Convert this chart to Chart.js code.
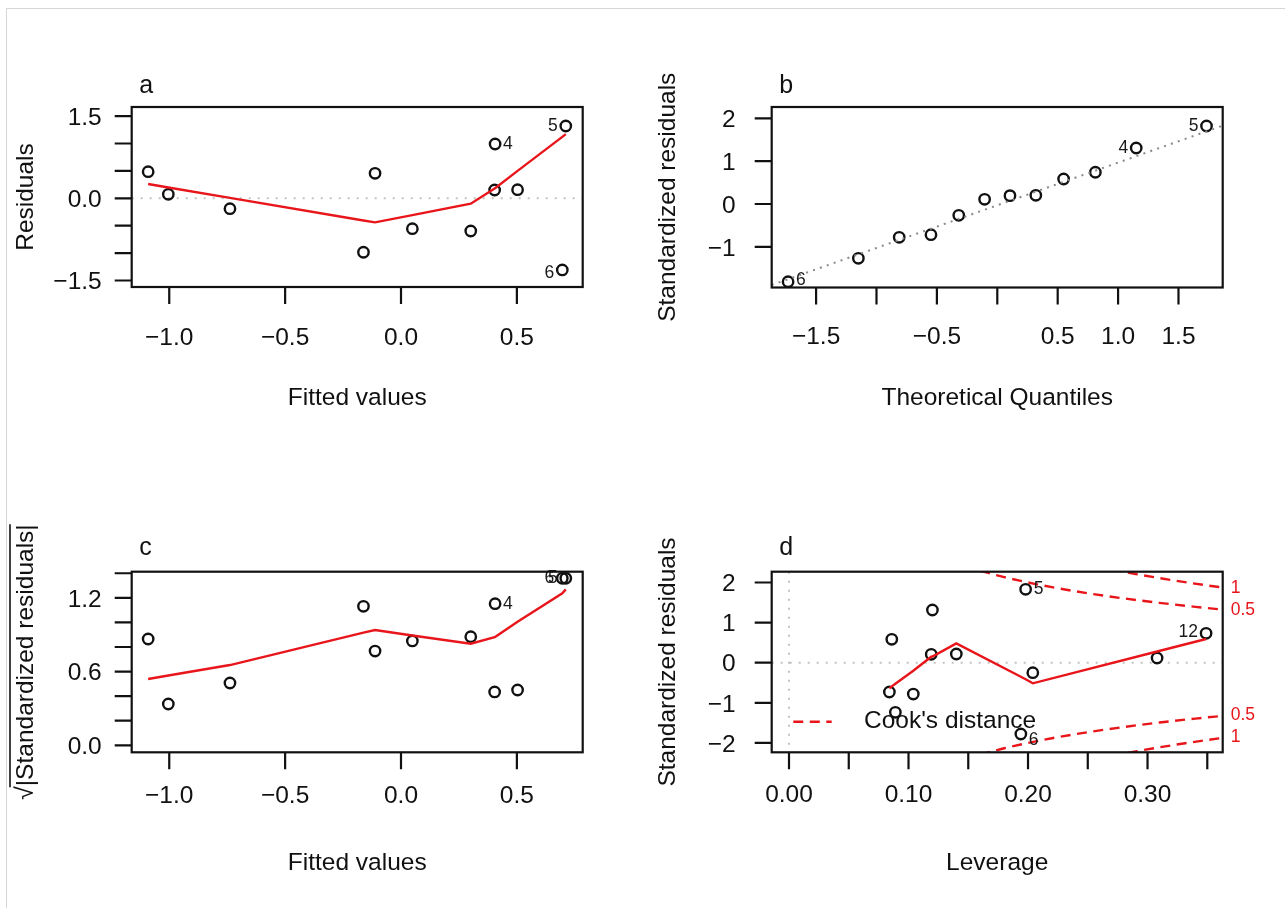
<!DOCTYPE html>
<html>
<head>
<meta charset="utf-8">
<title>Regression diagnostics</title>
<script src="https://cdn.jsdelivr.net/npm/chart.js"></script>
<style>
  html, body { margin: 0; padding: 0; background: #fff; }
  #page { position: relative; width: 1285px; height: 908px; overflow: hidden; background: #fff; }
  #frame { position: absolute; left: 6px; top: 8px; right: -2px; bottom: -2px;
           border-left: 1px solid #d6d6d6; border-top: 1px solid #d6d6d6; }
  canvas { position: absolute; left: 0; top: 0; }
</style>
</head>
<body>
<div id="page">
  <div id="frame"></div>
  <canvas id="panelA" width="1285" height="908"></canvas>
  <canvas id="panelB" width="1285" height="908"></canvas>
  <canvas id="panelC" width="1285" height="908"></canvas>
  <canvas id="panelD" width="1285" height="908"></canvas>
</div>
<script>
// ---- observations (ordered by fitted value) ----
const obsId = ["12", "", "", "", "", "", "", "4", "", "", "5", "6"];
const fitted = [-1.091, -1.004, -0.738, -0.162, -0.112, 0.049, 0.301, 0.406, 0.404, 0.503, 0.711, 0.696];
const residuals = [0.485, 0.073, -0.190, -0.985, 0.456, -0.555, -0.597, 0.991, 0.151, 0.157, 1.319, -1.308];
const sqrtStdResid = [0.865, 0.336, 0.507, 1.131, 0.767, 0.849, 0.884, 1.152, 0.434, 0.450, 1.359, 1.359];
const leverage = [0.349, 0.308, 0.204, 0.089, 0.086, 0.084, 0.104, 0.120, 0.119, 0.140, 0.198, 0.194];
const stdResid = [0.733, 0.117, -0.249, -1.237, 0.583, -0.731, -0.781, 1.314, 0.209, 0.217, 1.830, -1.778];

// normal Q-Q
const theoQuantiles = [-1.732, -1.150, -0.812, -0.549, -0.319, -0.105, 0.105, 0.319, 0.549, 0.812, 1.150, 1.732];
const sortedStdResid = [-1.815, -1.269, -0.779, -0.717, -0.265, 0.109, 0.195, 0.202, 0.584, 0.741, 1.308, 1.822];
const qqId = ["6", "", "", "", "", "", "", "", "", "", "4", "5"];
const qqLineCoef = [-0.03, 0.997]; // intercept, slope

// smoothers
const smoothFitted = [-1.091, -1.004, -0.738, -0.162, -0.112, 0.049, 0.301, 0.404, 0.406, 0.503, 0.696, 0.711];
const residSmooth = [0.261, 0.197, 0.007, -0.406, -0.440, -0.307, -0.099, 0.180, 0.185, 0.500, 1.120, 1.170];
const scaleSmooth = [0.539, 0.568, 0.653, 0.917, 0.938, 0.893, 0.827, 0.879, 0.882, 1.006, 1.237, 1.269];
const smoothLeverage = [0.084, 0.086, 0.089, 0.104, 0.119, 0.120, 0.140, 0.194, 0.198, 0.204, 0.308, 0.349];
const leverageSmooth = [-0.640, -0.589, -0.523, -0.200, 0.150, 0.155, 0.483, -0.349, -0.414, -0.514, 0.280, 0.591];

// Cook's distance contours (upper half; lower half is mirrored)
const cookHalfH = [0.16, 0.18, 0.20, 0.22, 0.25, 0.28, 0.31, 0.34, 0.365];
const cookHalfR = [2.291, 2.134, 2.000, 1.883, 1.732, 1.604, 1.492, 1.393, 1.319];
const cookOneH = [0.27, 0.29, 0.31, 0.33, 0.35, 0.365];
const cookOneR = [2.325, 2.213, 2.110, 2.015, 1.927, 1.865];

// ticks
const resXTicks = [-1.0, -0.5, 0.0, 0.5];
const resXLabels = ["\u22121.0", "\u22120.5", "0.0", "0.5"];
const resYTicks = [-1.5, -1.0, -0.5, 0.0, 0.5, 1.0, 1.5];
const resYLabels = ["\u22121.5", "", "", "0.0", "", "", "1.5"];
const qqXTicks = [-1.5, -1.0, -0.5, 0.0, 0.5, 1.0, 1.5];
const qqXLabels = ["\u22121.5", "", "\u22120.5", "", "0.5", "1.0", "1.5"];
const qqYTicks = [-1, 0, 1, 2];
const qqYLabels = ["\u22121", "0", "1", "2"];
const scaleYTicks = [0.0, 0.2, 0.4, 0.6, 0.8, 1.0, 1.2, 1.4];
const scaleYLabels = ["0.0", "", "", "0.6", "", "", "1.2", ""];
const levXTicks = [0.00, 0.05, 0.10, 0.15, 0.20, 0.25, 0.30, 0.35];
const levXLabels = ["0.00", "", "0.10", "", "0.20", "", "0.30", ""];
const levYTicks = [-2, -1, 0, 1, 2];
const levYLabels = ["\u22122", "\u22121", "0", "1", "2"];

const FONT = '"Liberation Sans", Arial, Helvetica, sans-serif';
const FS = 24.5;
const INK = "#111";
const RED = "#e8161b";
const TICK = 17;

Chart.defaults.font.family = FONT;

function pts(xs, ys) {
  return xs.map((v, i) => ({ x: v, y: ys[i] }));
}

function idLabels(xs, ys, ids, sides) {
  const out = [];
  ids.forEach((id, i) => {
    if (id && sides[id]) out.push(Object.assign({ x: xs[i], y: ys[i], text: id }, sides[id]));
  });
  return out;
}

function pointSet(data) {
  return {
    data, order: 2, showLine: false,
    pointStyle: "circle", pointRadius: 5.2, pointHoverRadius: 5.2,
    pointBorderWidth: 2.4, pointBorderColor: INK, pointBackgroundColor: "rgba(0,0,0,0)"
  };
}

function lineSet(data, extra) {
  return Object.assign({
    data, order: 0, showLine: true, pointRadius: 0, pointHoverRadius: 0,
    borderColor: RED, borderWidth: 2.4, fill: false, tension: 0
  }, extra || {});
}

function cookSet(hs, rs, sign) {
  return lineSet(pts(hs, rs.map(r => sign * r)), {
    borderDash: [10, 6.5], borderWidth: 2.4, cubicInterpolationMode: "monotone"
  });
}

// dotted gray reference line through the scales
function dotted(ctx, a, x1, y1, x2, y2, color, dash) {
  ctx.save();
  ctx.beginPath();
  ctx.rect(a.left, a.top, a.right - a.left, a.bottom - a.top);
  ctx.clip();
  ctx.strokeStyle = color;
  ctx.lineWidth = 2;
  ctx.setLineDash(dash);
  ctx.beginPath();
  ctx.moveTo(x1, y1);
  ctx.lineTo(x2, y2);
  ctx.stroke();
  ctx.restore();
}

function rotatedTitle(ctx, text, xBase, yCenter, sqrt) {
  ctx.save();
  ctx.translate(xBase, yCenter);
  ctx.rotate(-Math.PI / 2);
  ctx.font = `${FS}px ${FONT}`;
  ctx.fillStyle = INK;
  ctx.textBaseline = "alphabetic";
  if (!sqrt) {
    ctx.textAlign = "center";
    ctx.fillText(text, 0, 0);
  } else {
    const radW = ctx.measureText("\u221A").width;
    const bodyW = ctx.measureText(text).width;
    const x0 = -(radW + bodyW) / 2;
    ctx.textAlign = "left";
    ctx.fillText("\u221A", x0, 0);
    ctx.fillText(text, x0 + radW, 0);
    ctx.strokeStyle = INK;
    ctx.lineWidth = 1.6;
    ctx.beginPath();
    ctx.moveTo(x0 + radW - 1, -23.3);
    ctx.lineTo(x0 + radW + bodyW, -23.3);
    ctx.stroke();
  }
  ctx.restore();
}

function decorPlugin(p) {
  return {
    id: "panelDecor",
    beforeDatasetsDraw(chart) {
      const { ctx, chartArea: a, scales } = chart;
      if (p.refLines) p.refLines(ctx, a, scales.x, scales.y);
    },
    afterDatasetsDraw(chart) {
      const { ctx, scales } = chart;
      ctx.save();
      ctx.font = `17.5px ${FONT}`;
      ctx.fillStyle = "#1a1a1a";
      ctx.textBaseline = "middle";
      (p.pointLabels || []).forEach(l => {
        const px = scales.x.getPixelForValue(l.x);
        const py = scales.y.getPixelForValue(l.y) + (l.dy || 0);
        if (l.side === "right") {
          ctx.textAlign = "left";
          ctx.fillText(l.text, px + 8, py);
        } else {
          ctx.textAlign = "right";
          ctx.fillText(l.text, px - 8, py);
        }
      });
      ctx.restore();
    },
    afterDraw(chart) {
      const { ctx, chartArea: a, scales } = chart;
      const xs = scales.x, ys = scales.y;
      ctx.save();
      // frame and ticks
      ctx.strokeStyle = INK;
      ctx.lineWidth = 2.2;
      ctx.strokeRect(a.left, a.top, a.right - a.left, a.bottom - a.top);
      ctx.beginPath();
      p.x.ticks.forEach(v => {
        const px = xs.getPixelForValue(v);
        ctx.moveTo(px, a.bottom);
        ctx.lineTo(px, a.bottom + TICK);
      });
      p.y.ticks.forEach(v => {
        const py = ys.getPixelForValue(v);
        ctx.moveTo(a.left, py);
        ctx.lineTo(a.left - TICK, py);
      });
      ctx.stroke();

      // tick labels
      ctx.fillStyle = INK;
      ctx.font = `${FS}px ${FONT}`;
      ctx.textBaseline = "alphabetic";
      ctx.textAlign = "center";
      p.x.ticks.forEach((v, i) => {
        if (p.x.labels[i]) ctx.fillText(p.x.labels[i], xs.getPixelForValue(v), a.bottom + p.x.labelBase);
      });
      ctx.textAlign = "right";
      p.y.ticks.forEach((v, i) => {
        if (p.y.labels[i]) ctx.fillText(p.y.labels[i], a.left - p.y.labelGap, ys.getPixelForValue(v) + FS * 0.358);
      });

      // axis titles and panel letter
      ctx.textAlign = "center";
      ctx.fillText(p.xTitle, (a.left + a.right) / 2, p.xTitleBase);
      ctx.textAlign = "left";
      ctx.font = `25px ${FONT}`;
      ctx.fillText(p.letter, a.left + 7.6, p.letterBase);
      ctx.restore();

      rotatedTitle(ctx, p.yTitle, p.yTitleX, (a.top + a.bottom) / 2, p.sqrtTitle);
      if (p.extra) p.extra(ctx, a, xs, ys);
    }
  };
}

function makePanel(p) {
  const W = 1285, H = 908;
  return new Chart(document.getElementById(p.id), {
    type: "scatter",
    data: { datasets: p.datasets },
    options: {
      responsive: false,
      animation: false,
      events: [],
      layout: {
        padding: { left: p.area.left, top: p.area.top, right: W - p.area.right, bottom: H - p.area.bottom }
      },
      scales: {
        x: { type: "linear", min: p.x.min, max: p.x.max, display: false },
        y: { type: "linear", min: p.y.min, max: p.y.max, display: false }
      },
      plugins: { legend: { display: false }, tooltip: { enabled: false } }
    },
    plugins: [decorPlugin(p)]
  });
}

// a: residuals vs fitted
makePanel({
  id: "panelA", letter: "a", letterBase: 93,
  area: { left: 131.7, top: 107, right: 582.7, bottom: 287 },
  x: { min: -1.162, max: 0.784, ticks: resXTicks, labels: resXLabels, labelBase: 58 },
  y: { min: -1.619, max: 1.666, ticks: resYTicks, labels: resYLabels, labelGap: 30 },
  xTitle: "Fitted values", xTitleBase: 405,
  yTitle: "Residuals", yTitleX: 33.3,
  refLines(ctx, a, xs, ys) {
    const y0 = ys.getPixelForValue(0);
    dotted(ctx, a, a.left, y0, a.right, y0, "#c2c2c2", [2, 7]);
  },
  datasets: [
    pointSet(pts(fitted, residuals)),
    lineSet(pts(smoothFitted, residSmooth))
  ],
  pointLabels: idLabels(fitted, residuals, obsId, {
    "4": { side: "right" }, "5": { side: "left" }, "6": { side: "left", dy: 3 }
  })
});

// b: normal Q-Q
const qqMin = -1.8675, qqMax = 1.866;
makePanel({
  id: "panelB", letter: "b", letterBase: 93,
  area: { left: 771.7, top: 107, right: 1222.7, bottom: 287.5 },
  x: { min: qqMin, max: qqMax, ticks: qqXTicks, labels: qqXLabels, labelBase: 56 },
  y: { min: -1.951, max: 2.266, ticks: qqYTicks, labels: qqYLabels, labelGap: 36 },
  xTitle: "Theoretical Quantiles", xTitleBase: 405,
  yTitle: "Standardized residuals", yTitleX: 675,
  datasets: [
    pointSet(pts(theoQuantiles, sortedStdResid)),
    lineSet([
      { x: qqMin, y: qqLineCoef[0] + qqLineCoef[1] * qqMin },
      { x: qqMax, y: qqLineCoef[0] + qqLineCoef[1] * qqMax }
    ], { borderColor: "#8a8a8a", borderWidth: 2, borderDash: [2, 5.3] })
  ],
  pointLabels: idLabels(theoQuantiles, sortedStdResid, qqId, {
    "6": { side: "right", dy: -1.5 }, "4": { side: "left" }, "5": { side: "left" }
  })
});

// c: scale-location
makePanel({
  id: "panelC", letter: "c", letterBase: 555,
  area: { left: 131.7, top: 571.7, right: 582.7, bottom: 752.3 },
  x: { min: -1.162, max: 0.784, ticks: resXTicks, labels: resXLabels, labelBase: 51 },
  y: { min: -0.057, max: 1.4125, ticks: scaleYTicks, labels: scaleYLabels, labelGap: 30 },
  xTitle: "Fitted values", xTitleBase: 869.5,
  yTitle: "|Standardized residuals|", yTitleX: 33.3, sqrtTitle: true,
  datasets: [
    pointSet(pts(fitted, sqrtStdResid)),
    lineSet(pts(smoothFitted, scaleSmooth))
  ],
  pointLabels: idLabels(fitted, sqrtStdResid, obsId, {
    "4": { side: "right" }, "5": { side: "left" }, "6": { side: "left" }
  })
});

// d: residuals vs leverage
makePanel({
  id: "panelD", letter: "d", letterBase: 555,
  area: { left: 771.7, top: 571.7, right: 1222.7, bottom: 752.3 },
  x: { min: -0.01448, max: 0.3629, ticks: levXTicks, labels: levXLabels, labelBase: 49.4 },
  y: { min: -2.234, max: 2.269, ticks: levYTicks, labels: levYLabels, labelGap: 36 },
  xTitle: "Leverage", xTitleBase: 869.5,
  yTitle: "Standardized residuals", yTitleX: 675,
  refLines(ctx, a, xs, ys) {
    const y0 = ys.getPixelForValue(0), x0 = xs.getPixelForValue(0);
    dotted(ctx, a, a.left, y0, a.right, y0, "#c2c2c2", [2, 7]);
    dotted(ctx, a, x0, a.top, x0, a.bottom, "#c2c2c2", [2, 7]);
  },
  datasets: [
    pointSet(pts(leverage, stdResid)),
    lineSet(pts(smoothLeverage, leverageSmooth)),
    cookSet(cookHalfH, cookHalfR, 1),
    cookSet(cookHalfH, cookHalfR, -1),
    cookSet(cookOneH, cookOneR, 1),
    cookSet(cookOneH, cookOneR, -1)
  ],
  pointLabels: idLabels(leverage, stdResid, obsId, {
    "5": { side: "right" }, "6": { side: "right", dy: 6 }, "12": { side: "left", dy: -1.5 }
  }),
  extra(ctx, a, xs, ys) {
    ctx.save();
    // contour levels at the right margin
    ctx.font = `17.5px ${FONT}`;
    ctx.fillStyle = RED;
    ctx.textAlign = "left";
    ctx.textBaseline = "middle";
    const halfEnd = cookHalfR[cookHalfR.length - 1];
    const oneEnd = cookOneR[cookOneR.length - 1];
    ctx.fillText("1", a.right + 8, ys.getPixelForValue(oneEnd));
    ctx.fillText("0.5", a.right + 8, ys.getPixelForValue(halfEnd));
    ctx.fillText("0.5", a.right + 8, ys.getPixelForValue(-halfEnd));
    ctx.fillText("1", a.right + 8, ys.getPixelForValue(-oneEnd));
    // legend
    const ly = a.bottom - 30.6;
    ctx.strokeStyle = RED;
    ctx.lineWidth = 2.4;
    ctx.setLineDash([10, 6.5]);
    ctx.beginPath();
    ctx.moveTo(a.left + 21.6, ly);
    ctx.lineTo(a.left + 60, ly);
    ctx.stroke();
    ctx.setLineDash([]);
    ctx.fillStyle = INK;
    ctx.font = `${FS}px ${FONT}`;
    ctx.fillText("Cook's distance", a.left + 92.3, ly);
    ctx.restore();
  }
});
</script>
</body>
</html>
